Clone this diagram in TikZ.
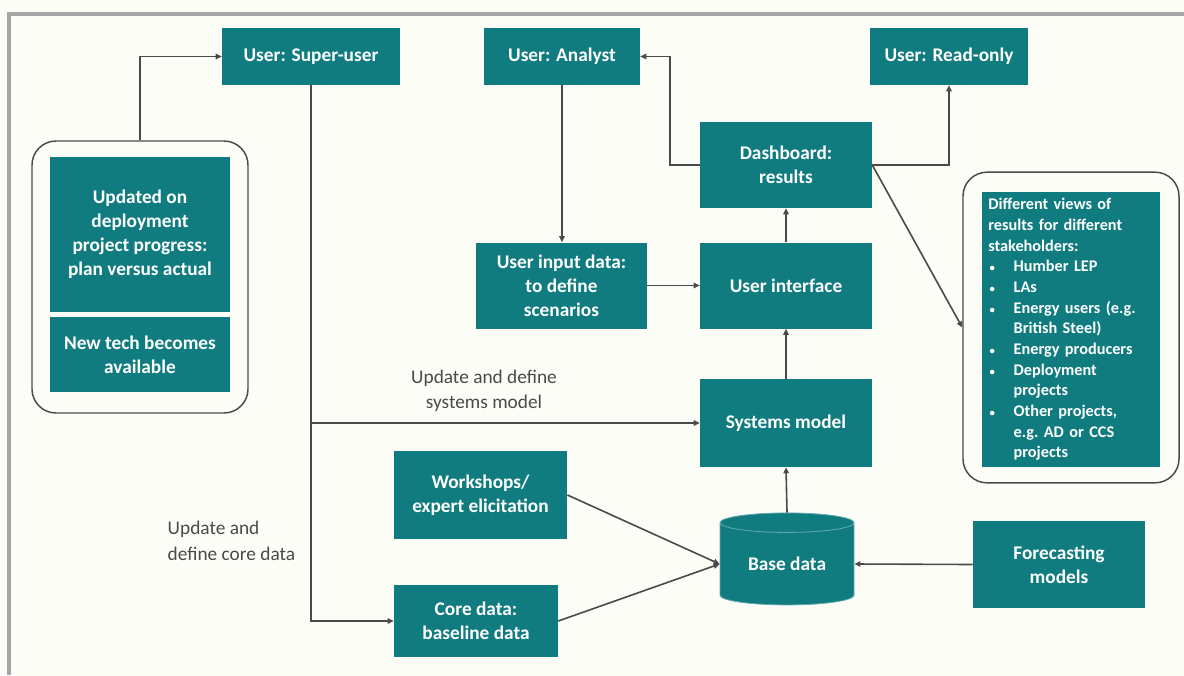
\documentclass[tikz,border=0pt]{standalone}
\usepackage{fontspec}
\setmainfont{Carlito}
\usepackage{xcolor}
\usetikzlibrary{arrows.meta,shapes.geometric}

\definecolor{boxteal}{HTML}{107C80}
\definecolor{linegray}{HTML}{4A4A4A}
\definecolor{paper}{HTML}{FDFDF8}
\definecolor{framegray}{HTML}{A6A6A6}

\newcommand{\bul}{\makebox[19pt][l]{\hspace{1pt}\fontsize{8}{8}\selectfont\textbullet}}

\begin{document}
\begin{tikzpicture}[
  x=0.75pt, y=-0.75pt,
  tbox/.style={fill=boxteal, text=white, align=center, inner sep=3pt,
               font=\fontsize{14.5}{18}\selectfont\bfseries,
               minimum width=129pt, minimum height=64.5pt},
  userbox/.style={tbox, minimum height=42.75pt},
  group/.style={draw=linegray, line width=1.1pt, rounded corners=18pt,
                minimum width=162pt},
  arrow/.style={-{Triangle[length=4.5pt,width=4pt]}, line width=1.2pt, draw=linegray},
  flowlabel/.style={font=\fontsize{14.5}{19}\selectfont, text=linegray, align=left},
]
  % page and frame
  \useasboundingbox (0,0) rectangle (1184,675);
  \fill[paper] (0,0) rectangle (1184,675);
  \draw[framegray, line width=3pt] (9,675) -- (9,14) -- (1184,14);

  % users
  \node[userbox, minimum width=133.5pt] (su) at (311, 56.5) {User: Super-user};
  \node[userbox, minimum width=117pt] (an) at (562, 56.5) {User: Analyst};
  \node[userbox, minimum width=118.5pt] (ro) at (949, 56.5) {User: Read-only};

  % left group
  \node[group, minimum height=204pt] (lg) at (140, 277) {};
  \node[tbox, minimum width=135pt, minimum height=116pt] (lg1) at (140, 234.5)
    {Updated on\\deployment\\project progress:\\plan versus actual};
  \node[tbox, minimum width=135pt, minimum height=56pt] (lg2) at (140, 354.5)
    {New tech becomes\\available};

  % main chain
  \node[tbox] (dash) at (786, 165) {Dashboard:\\results};
  \node[tbox, minimum width=128pt] (uin) at (561.5, 285.5)
    {User input data:\\to define\\scenarios};
  \node[tbox] (ui) at (786, 285.5) {User interface};
  \node[tbox, minimum height=66pt] (sm) at (786, 423) {Systems model};

  % data sources
  \node[tbox, minimum width=130pt, minimum height=66pt] (ws) at (480.5, 495)
    {Workshops/\\expert elicitation};
  \node[tbox, minimum width=123pt, minimum height=54pt] (core) at (476, 621)
    {Core data:\\baseline data};
  \node[cylinder, shape border rotate=90, aspect=0.25, fill=boxteal,
        draw=boxteal!65!white, line width=0.6pt, text=white,
        font=\fontsize{14.5}{18}\selectfont\bfseries,
        minimum width=100.5pt, minimum height=69pt, inner sep=0pt] (base) at (787, 564)
    {Base data};
  \node[tbox, minimum height=65pt] (fc) at (1059, 564.5) {Forecasting\\models};

  % right group
  \node[group, minimum height=233pt] (rg) at (1071, 327.5) {};
  \node[tbox, minimum width=133.5pt, minimum height=206pt, align=left,
        text width=124pt, inner sep=5pt,
        font=\fontsize{12.2}{15.5}\selectfont\bfseries] (rg1) at (1071, 329.5)
    {Different views of\\results for different\\stakeholders:\\
     \bul Humber LEP\\
     \bul LAs\\
     \bul Energy users (e.g.\\
     \hspace*{19pt}British Steel)\\
     \bul Energy producers\\
     \bul Deployment\\
     \hspace*{19pt}projects\\
     \bul Other projects,\\
     \hspace*{19pt}e.g.\ AD or CCS\\
     \hspace*{19pt}projects};

  % labels
  \node[flowlabel, align=center] (lblsm) at (484, 391) {Update and define\\systems model};
  \node[flowlabel, anchor=west] (lblcore) at (163, 541) {Update and\\define core data};

  % Arrows
  \draw[arrow] (lg.north) |- (su.west);
  \draw[arrow] (su.south) |- (core.west);
  \draw[arrow] (su.south |- sm.west) -- (sm.west);
  \draw[arrow] (an.south) -- (an.south |- uin.north);
  \draw[arrow] (dash.west) -- ++(-30,0) |- (an.east);
  \draw[arrow] (dash.east) -| (ro.south);
  \draw[arrow] (dash.east) -- (rg.west);
  \draw[arrow] (uin.east) -- (ui.west);
  \draw[arrow] (ui.north) -- (dash.south);
  \draw[arrow] (sm.north) -- (ui.south);
  \draw[arrow] (base.north) -- (sm.south);
  \draw[arrow] (ws.east) -- (base.west);
  \draw[arrow] (core.east) -- (base.west);
  \draw[arrow] (fc.west) -- (base.east);

\end{tikzpicture}
\end{document}
